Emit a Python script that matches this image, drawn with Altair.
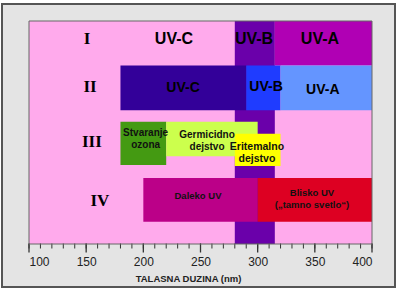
import altair as alt
import pandas as pd

# ---------------- data ----------------
# coloured bands: wavelength range (nm) and row position (row units, 0 = top)
band_names = ["UV-B kolona", "UV-A (I)", "UV-C (II)", "UV-B (II)", "UV-A (II)",
              "Stvaranje ozona", "Germicidno dejstvo", "Eritemalno dejstvo",
              "Daleko UV", "Blisko UV"]
band_start = [280, 315, 180, 290, 320, 180, 220, 280, 200, 300]
band_end = [315, 400, 290, 320, 400, 220, 300, 320, 300, 400]
band_top = [0, 0, 1, 1, 1, 2.26, 2.26, 2.53, 3.52, 3.52]
band_bottom = [5, 1, 2, 2, 2, 3.23, 3.03, 3.25, 4.5, 4.5]
band_colors = ["#6a00aa", "#b000b4", "#330099", "#1f3cff", "#6495ff",
               "#449a12", "#ccff4d", "#ffff00", "#bb0088", "#dd0022"]

# roman numerals for rows
roman_text = ["I", "II", "III", "IV"]
roman_x = [150.7, 153.4, 155, 162]
roman_y = [0.4, 1.47, 2.72, 4.03]

# big labels (rows I and II)
big_text = ["UV-C", "UV-B", "UV-A", "UV-C", "UV-B", "UV-A"]
big_x = [226.8, 296.8, 354.5, 234.7, 307.3, 357]
big_y = [0.4, 0.4, 0.4, 1.5, 1.48, 1.55]
big_size = [16, 16, 16, 14, 14, 14]

# small labels (rows III and IV); y = first line
small_text = ["Stvaranje\nozona", "Germicidno\ndejstvo", "Eritemalno\ndejstvo",
              "Daleko UV", "Blisko UV\n(„tamno svetlo“)"]
small_x = [202, 255.7, 299.4, 247.8, 347.5]
small_y = [2.52, 2.56, 2.83, 3.92, 3.86]
small_size = [10, 10, 10.5, 9.5, 9.5]

major_ticks = [100, 150, 200, 250, 300, 350, 400]
minor_ticks = list(range(100, 401, 10))
x_title = "TALASNA DUZINA (nm)"

# ---------------- chart ----------------
W, H = 343, 223

bands = pd.DataFrame({"name": band_names, "start": band_start, "end": band_end,
                      "top": band_top, "bottom": band_bottom, "color": band_colors})
roman = pd.DataFrame({"t": roman_text, "x": roman_x, "y": roman_y})
big = pd.DataFrame({"t": big_text, "x": big_x, "y": big_y, "s": big_size})
small = pd.DataFrame({"t": small_text, "x": small_x, "y": small_y, "s": small_size})
minor_df = pd.DataFrame({"v": minor_ticks})
major_df = pd.DataFrame({"v": major_ticks})
one = pd.DataFrame({"a": [0]})

xscale = alt.Scale(domain=[100, 400], nice=False, zero=False)
yscale = alt.Scale(domain=[0, 5], reverse=True, nice=False, zero=False)

# the same axis object is given to every layer so the shared axis merges cleanly
main_axis = alt.Axis(values=major_ticks, orient="bottom", ticks=False, domain=False,
                     labelFontSize=12, labelColor="#222",
                     labelFont="Liberation Sans", labelPadding=12, grid=False,
                     title=x_title, titleFont="Liberation Sans", titleFontSize=9.5,
                     titleFontWeight="bold", titleColor="#222", titleX=159,
                     titleY=29, titleAnchor="start", titleAlign="center",
                     titleBaseline="top", zindex=1)

# white margin outside the grey frame, then the frame line itself (no fill)
outer_white = alt.Chart(one).mark_rect(fillOpacity=0, stroke="#ffffff", strokeWidth=8).encode(
    x=alt.value(-31), x2=alt.value(370), y=alt.value(-21), y2=alt.value(270))
frame = alt.Chart(one).mark_rect(fillOpacity=0, stroke="#555", strokeWidth=2).encode(
    x=alt.value(-27), x2=alt.value(366), y=alt.value(-17), y2=alt.value(266))

band_layer = alt.Chart(bands).mark_rect().encode(
    x=alt.X("start:Q", scale=xscale, axis=main_axis),
    x2="end:Q",
    y=alt.Y("top:Q", scale=yscale, axis=None),
    y2="bottom:Q",
    color=alt.Color("color:N", scale=None),
)

# tick marks below the plot: short every 10 nm, long every 50 nm
minor_layer = alt.Chart(minor_df).mark_tick(orient="vertical", size=5, thickness=1,
                                            color="#333", opacity=1).encode(
    x=alt.X("v:Q", scale=xscale, axis=main_axis),
    y=alt.value(H + 2),
)

major_layer = alt.Chart(major_df).mark_tick(orient="vertical", size=9, thickness=1.3,
                                            color="#333", opacity=1).encode(
    x=alt.X("v:Q", scale=xscale, axis=main_axis),
    y=alt.value(H + 4),
)

roman_layer = alt.Chart(roman).mark_text(font="Liberation Serif", fontSize=17,
                                         fontWeight="bold",
                                         color="#000", baseline="middle").encode(
    x=alt.X("x:Q", scale=xscale, axis=main_axis),
    y=alt.Y("y:Q", scale=yscale, axis=None),
    text="t:N",
)

big_layer = alt.Chart(big).mark_text(font="Liberation Sans", fontWeight="bold",
                                     color="#000", baseline="middle").encode(
    x=alt.X("x:Q", scale=xscale, axis=main_axis),
    y=alt.Y("y:Q", scale=yscale, axis=None),
    size=alt.Size("s:Q", scale=None, legend=None),
    text="t:N",
)

small_layer = alt.Chart(small).mark_text(font="Liberation Sans", fontWeight="bold",
                                         color="#111", baseline="middle",
                                         lineBreak="\n", lineHeight=12).encode(
    x=alt.X("x:Q", scale=xscale, axis=main_axis),
    y=alt.Y("y:Q", scale=yscale, axis=None),
    size=alt.Size("s:Q", scale=None, legend=None),
    text="t:N",
)

border = alt.Chart(one).mark_rect(fillOpacity=0, stroke="#666", strokeWidth=1).encode(
    x=alt.value(0), x2=alt.value(W), y=alt.value(0), y2=alt.value(H))

chart = alt.layer(outer_white, frame, band_layer, minor_layer, major_layer, roman_layer,
                  big_layer, small_layer, border).properties(
    width=W, height=H,
    autosize=alt.AutoSizeParams(type="none"),
    padding={"left": 29, "top": 21, "right": 28, "bottom": 45},
    background="#e4e4e4",
).configure_view(strokeWidth=0, fill="#ffaaec")

chart.save("out.html", embed_options={"renderer": "svg", "actions": False})
